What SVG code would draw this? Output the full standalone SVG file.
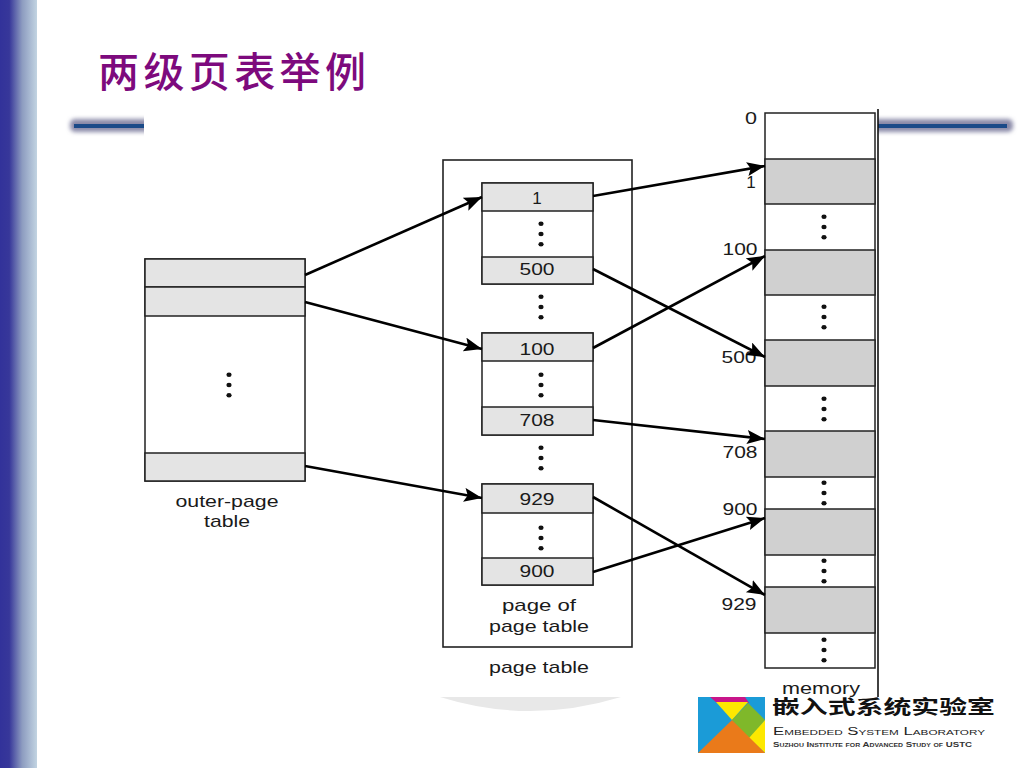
<svg xmlns="http://www.w3.org/2000/svg" width="1024" height="768" viewBox="0 0 1024 768">
<style>
.t{font-family:"Liberation Sans",Arial,sans-serif;font-size:17px;fill:#1a1a1a}
.m{text-anchor:middle}
.box{fill:#fff;stroke:#222;stroke-width:1.6}
.g{fill:#e4e4e4;stroke:#222;stroke-width:1.5}
.k{fill:#d0d0d0;stroke:#222;stroke-width:1.5}
.w{fill:#fff;stroke:#222;stroke-width:1.5}
.d{fill:#111}
.c{fill:none;stroke:#000;stroke-width:2.6;marker-end:url(#a)}
</style>
<defs>
<linearGradient id="s" x1="0" x2="1" y1="0" y2="0"><stop offset="0" stop-color="#32329a"/><stop offset=".25" stop-color="#37379a"/><stop offset=".6" stop-color="#8d9cc0"/><stop offset="1" stop-color="#c2d4e2"/></linearGradient>
<filter id="b" x="-10%" y="-100%" width="120%" height="300%"><feGaussianBlur stdDeviation="2.2"/></filter>
<marker id="a" markerUnits="userSpaceOnUse" markerWidth="20" markerHeight="16" refX="18" refY="7" orient="auto"><path d="M0 0L18 7L0 14L3.500 7Z" fill="#000"/></marker>
<g id="dots"><ellipse cx="0" cy="-10.300" rx="2.600" ry="2.200"/><ellipse cx="0" cy="0" rx="2.600" ry="2.200"/><ellipse cx="0" cy="10.300" rx="2.600" ry="2.200"/></g>
</defs>
<rect width="1024" height="768" fill="#fff"/>
<rect id="strip" width="37" height="768" fill="url(#s)"/>
<g id="rule">
<rect x="70" y="119" width="943" height="13" rx="5" fill="#8a8aa8" filter="url(#b)"/>
<rect x="74" y="124" width="933" height="4" fill="#1a4a88"/>
</g>
<text id="title" x="98" y="87" font-family="'Noto Sans CJK SC',sans-serif" font-size="41" font-weight="500" fill="#7d0a7d" textLength="268" lengthAdjust="spacing">两级页表举例</text>
<rect id="figure-bg" x="144" y="100" width="734" height="597" fill="#fff"/>
<path id="shade" d="M440 697H621Q575 711 530 711Q485 711 440 697Z" fill="#e8e8e8"/>
<line id="edge" x1="878" y1="109" x2="878" y2="697" stroke="#111" stroke-width="1.6"/>

<g id="outer-page-table">
<rect class="w" x="145" y="259" width="160" height="222"/>
<rect class="g" x="145" y="259" width="160" height="28"/>
<rect class="g" x="145" y="287" width="160" height="29"/>
<rect class="g" x="145" y="453" width="160" height="28"/>
<use href="#dots" x="229" y="385" class="d"/>
<text class="t m" x="227" y="507" textLength="103" lengthAdjust="spacingAndGlyphs">outer-page</text>
<text class="t m" x="227" y="527" textLength="46" lengthAdjust="spacingAndGlyphs">table</text>
</g>

<g id="page-table">
<rect class="box" x="443" y="160" width="189" height="487"/>
<use href="#dots" x="541" y="307" class="d"/>
<use href="#dots" x="541" y="458" class="d"/>
<text class="t m" x="539" y="611" textLength="74" lengthAdjust="spacingAndGlyphs">page of</text>
<text class="t m" x="539" y="632" textLength="100" lengthAdjust="spacingAndGlyphs">page table</text>
<text class="t m" x="539" y="673" textLength="100" lengthAdjust="spacingAndGlyphs">page table</text>
</g>

<g id="block-1">
<rect class="w" x="482" y="183" width="111" height="101"/>
<rect class="g" x="482" y="183" width="111" height="28"/>
<rect class="g" x="482" y="257" width="111" height="27"/>
<use href="#dots" x="541" y="234" class="d"/>
<text class="t m" x="537" y="204">1</text>
<text class="t m" x="537" y="275" textLength="35" lengthAdjust="spacingAndGlyphs">500</text>
</g>
<g id="block-2">
<rect class="w" x="482" y="333" width="111" height="102"/>
<rect class="g" x="482" y="333" width="111" height="28"/>
<rect class="g" x="482" y="407" width="111" height="28"/>
<use href="#dots" x="541" y="385" class="d"/>
<text class="t m" x="537" y="355" textLength="35" lengthAdjust="spacingAndGlyphs">100</text>
<text class="t m" x="537" y="426" textLength="35" lengthAdjust="spacingAndGlyphs">708</text>
</g>
<g id="block-3">
<rect class="w" x="482" y="484" width="111" height="101"/>
<rect class="g" x="482" y="484" width="111" height="29"/>
<rect class="g" x="482" y="558" width="111" height="27"/>
<use href="#dots" x="541" y="538" class="d"/>
<text class="t m" x="537" y="505" textLength="35" lengthAdjust="spacingAndGlyphs">929</text>
<text class="t m" x="537" y="577" textLength="35" lengthAdjust="spacingAndGlyphs">900</text>
</g>

<g id="memory">
<rect class="w" x="765" y="113" width="110" height="555"/>
<rect class="k" x="765" y="159" width="110" height="45"/>
<rect class="k" x="765" y="250" width="110" height="45"/>
<rect class="k" x="765" y="340" width="110" height="46"/>
<rect class="k" x="765" y="431" width="110" height="46"/>
<rect class="k" x="765" y="509" width="110" height="46"/>
<rect class="k" x="765" y="587" width="110" height="46"/>
<use href="#dots" x="824" y="227" class="d"/>
<use href="#dots" x="824" y="317" class="d"/>
<use href="#dots" x="824" y="409" class="d"/>
<use href="#dots" x="824" y="493" class="d"/>
<use href="#dots" x="824" y="571" class="d"/>
<use href="#dots" x="824" y="650" class="d"/>
<text class="t m" x="751" y="124" textLength="12" lengthAdjust="spacingAndGlyphs">0</text>
<text class="t m" x="751" y="188">1</text>
<text class="t m" x="740" y="255" textLength="35" lengthAdjust="spacingAndGlyphs">100</text>
<text class="t m" x="739" y="363" textLength="35" lengthAdjust="spacingAndGlyphs">500</text>
<text class="t m" x="740" y="458" textLength="35" lengthAdjust="spacingAndGlyphs">708</text>
<text class="t m" x="740" y="515" textLength="35" lengthAdjust="spacingAndGlyphs">900</text>
<text class="t m" x="739" y="610" textLength="35" lengthAdjust="spacingAndGlyphs">929</text>
<text class="t m" x="821" y="694" textLength="78" lengthAdjust="spacingAndGlyphs">memory</text>
</g>

<g id="connectors">
<line class="c" x1="305" y1="275" x2="482" y2="197"/>
<line class="c" x1="305" y1="302" x2="482" y2="349"/>
<line class="c" x1="305" y1="466" x2="482" y2="498"/>
<line class="c" x1="593" y1="196" x2="765" y2="166"/>
<line class="c" x1="593" y1="269" x2="765" y2="357"/>
<line class="c" x1="593" y1="348" x2="765" y2="256"/>
<line class="c" x1="593" y1="420" x2="765" y2="439"/>
<line class="c" x1="593" y1="497" x2="765" y2="595"/>
<line class="c" x1="593" y1="572" x2="765" y2="518"/>
</g>

<g id="logo">
<rect x="698" y="697" width="67" height="56" fill="#1b9bd7"/>
<path d="M710 697H745L749 703H717Z" fill="#c8158a"/>
<path d="M716 702H748L732 720Z" fill="#fde800"/>
<path d="M748 703L765 720L749 739L732 720Z" fill="#7fb82a"/>
<path d="M765 720V753L749 738Z" fill="#fde800"/>
<path d="M698 753L732 720L765 753Z" fill="#ea7a1a"/>
<text x="772" y="714" font-family="'Noto Sans CJK SC',sans-serif" font-size="19" font-weight="700" fill="#111" textLength="223" lengthAdjust="spacingAndGlyphs">嵌入式系统实验室</text>
<text x="773" y="735" font-family="'Liberation Sans',sans-serif" font-size="10" fill="#222" style="font-variant:small-caps" textLength="212" lengthAdjust="spacingAndGlyphs">Embedded System Laboratory</text>
<text x="773" y="747" font-family="'Liberation Sans',sans-serif" font-size="7" font-weight="700" fill="#333" style="font-variant:small-caps" textLength="199" lengthAdjust="spacingAndGlyphs">Suzhou Institute for Advanced Study of USTC</text>
</g>
</svg>
